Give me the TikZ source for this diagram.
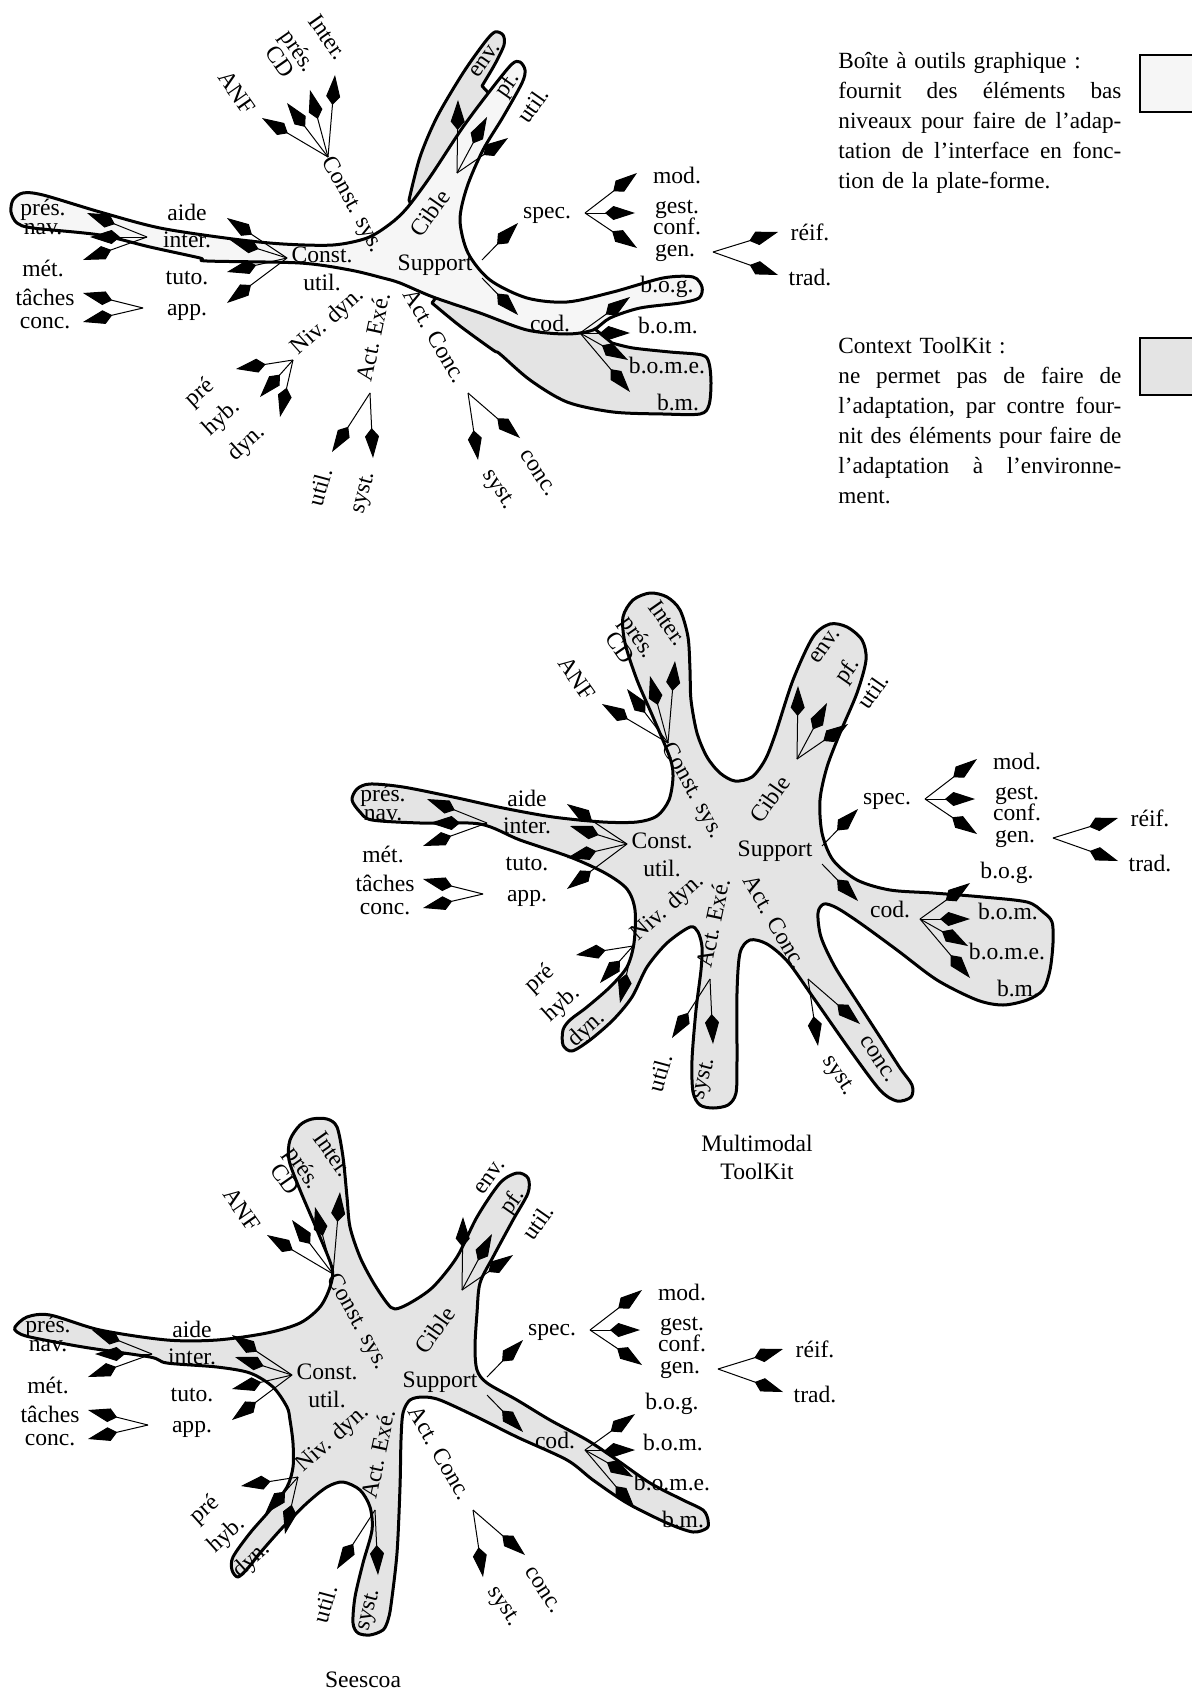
\documentclass[tikz,border=0pt]{standalone}
\usepackage{fontspec}
\setmainfont{Liberation Serif}
\usepackage{xcolor}
\usetikzlibrary{arrows.meta}
\definecolor{boitefill}{gray}{0.965}
\definecolor{ctxfill}{gray}{0.895}
% one justified line of the legend
\newcommand{\jl}[1]{\leavevmode\hbox to 141.5pt{#1}}

\tikzset{
  br/.style={line width=0.5pt,-{Kite[length=15pt,width=7pt,inset=4.2pt]}},
  blob/.style={line width=1.5pt,line join=round},
  every node/.style={inner sep=1pt},
}

% the taxonomy, drawn once per tool
\newcommand{\taxonomie}{%
  % main axes
  \node[rotate=-61] (csys) at (352,205) {Const. sys.};
  \node[rotate=55] (cible) at (430,213) {Cible};
  \node (supp) at (435,265) {Support};
  \node[align=center] (cutil) at (322,269) {Const.\\util.};
  \node[rotate=42] (nivd) at (328,322) {Niv. dyn.};
  \node[rotate=78] (acte) at (373,337) {Act. Exé.};
  \node[rotate=-60] (actc) at (435,336) {Act. Conc.};
  % Const. util.
  \coordinate (cuH) at (287,258);
  \coordinate (aideT) at (227,218); \coordinate (interT) at (230,240);
  \coordinate (tutoT) at (227,272); \coordinate (appT) at (227,303);
  \node (aide) at (187,212) {aide};
  \node (inter) at (187,240) {inter.};
  \node (tuto) at (187,278) {tuto.};
  \node (app) at (187,312) {app.};
  \foreach \t in {aideT,interT,tutoT,appT} \draw[br] (cuH) -- (\t);
  \coordinate (intH) at (147,237);
  \coordinate (presT) at (87,213); \coordinate (navT) at (90,237);
  \coordinate (metT) at (83,260);
  \node (pres) at (43,210) {prés.};
  \node (nav) at (43,229) {nav.};
  \node (met) at (43,268) {mét.};
  \foreach \t in {presT,navT,metT} \draw[br] (intH) -- (\t);
  \coordinate (appH) at (143,308);
  \coordinate (tachT) at (83,293); \coordinate (concT) at (83,322);
  \node (tach) at (45,297) {tâches};
  \node (concu) at (45,323) {conc.};
  \foreach \t in {tachT,concT} \draw[br] (appH) -- (\t);
  % Const. sys.
  \coordinate (csH) at (328,157);
  \coordinate (anfT) at (262,118); \coordinate (cdT) at (287,103);
  \coordinate (presiT) at (310,90); \coordinate (interiT) at (335,75);
  \node[rotate=-55] (anf) at (237,92) {ANF};
  \node[rotate=-55] (cd) at (280,62) {CD};
  \node[rotate=-55] (presi) at (297,52) {prés.};
  \node[rotate=-55] (interi) at (328,37) {Inter.};
  \foreach \t in {anfT,cdT,presiT,interiT} \draw[br] (csH) -- (\t);
  % Cible
  \coordinate (ciH) at (457,173);
  \coordinate (envT) at (458,100); \coordinate (pfT) at (487,117);
  \coordinate (utT) at (508,138);
  \node[rotate=55] (env) at (485,60) {env.};
  \node[rotate=55] (pf) at (508,85) {pf.};
  \node[rotate=55] (utc) at (533,105) {util.};
  \foreach \t in {envT,pfT,utT} \draw[br] (ciH) -- (\t);
  % Support
  \coordinate (spS) at (482,260); \coordinate (specT) at (518,223);
  \coordinate (coS) at (482,278); \coordinate (codT) at (518,315);
  \node (spec) at (547,215) {spec.};
  \node (cod) at (550,323) {cod.};
  \draw[br] (spS) -- (specT);
  \draw[br] (coS) -- (codT);
  \coordinate (spH) at (585,213);
  \coordinate (modT) at (637,173); \coordinate (gcT) at (635,213);
  \coordinate (genT) at (637,248);
  \node (mod) at (677,175) {mod.};
  \node[align=center] (gc) at (677,218) {gest.\\[-3.5pt]conf.};
  \node (gen) at (675,253) {gen.};
  \foreach \t in {modT,gcT,genT} \draw[br] (spH) -- (\t);
  \coordinate (genH) at (713,252);
  \coordinate (reifT) at (778,232); \coordinate (tradT) at (778,275);
  \node (reif) at (810,232) {réif.};
  \node (trad) at (810,277) {trad.};
  \foreach \t in {reifT,tradT} \draw[br] (genH) -- (\t);
  \coordinate (coH) at (580,333);
  \coordinate (bogT) at (630,297); \coordinate (bomT) at (630,333);
  \coordinate (bomeT) at (628,360); \coordinate (bmT) at (630,392);
  \node (bog) at (667,287) {b.o.g.};
  \node (bom) at (668,325) {b.o.m.};
  \node (bome) at (667,365) {b.o.m.e.};
  \node (bm) at (678,402) {b.m.};
  \foreach \t in {bogT,bomT,bomeT,bmT} \draw[br] (coH) -- (\t);
  % Niv. dyn.
  \coordinate (ndH) at (293,360);
  \coordinate (preT) at (236,369); \coordinate (hybT) at (260,397);
  \coordinate (dynT) at (280,417);
  \node[rotate=42] (pre) at (200,393) {pré};
  \node[rotate=42] (hyb) at (222,418) {hyb.};
  \node[rotate=42] (dyn) at (247,443) {dyn.};
  \foreach \t in {preT,hybT,dynT} \draw[br] (ndH) -- (\t);
  % Act. Exe.
  \coordinate (aeH) at (370,393);
  \coordinate (aeuT) at (332,452); \coordinate (aesT) at (373,458);
  \node[rotate=75] (aeu) at (320,487) {util.};
  \node[rotate=75] (aes) at (365,493) {syst.};
  \foreach \t in {aeuT,aesT} \draw[br] (aeH) -- (\t);
  % Act. Conc.
  \coordinate (acH) at (468,393);
  \coordinate (acsT) at (478,460); \coordinate (accT) at (520,438);
  \node[rotate=-57] (acs) at (498,490) {syst.};
  \node[rotate=-57] (acc) at (538,473) {conc.};
  \foreach \t in {acsT,accT} \draw[br] (acH) -- (\t);
}

\begin{document}
\begin{tikzpicture}[x=0.5pt,y=-0.5pt,font=\fontsize{11.8}{14}\selectfont]
  \useasboundingbox (0,0) rectangle (1192,1691);
  \clip (0,0) rectangle (1192,1691);

  % Context ToolKit (grey) under the toolbox (light)
  \filldraw[blob,fill=ctxfill] (418,222) -- plot[smooth,tension=0.5] coordinates {(409,200) (420,157) (437,117) (463,73) (485,42) (495,32) (503,35) (504,45) (495,64) (482,86)} -- (495,100) -- (475,150) -- (450,195) -- cycle;
  \filldraw[blob,fill=ctxfill] (440,292) -- plot[smooth,tension=0.5] coordinates {(432,303) (460,326) (493,350) (500,354) (530,380) (567,402) (613,412) (663,414) (700,414) (709,405) (711,383) (709,363) (702,355) (670,352) (633,348) (612,343)} -- (590,325) -- (520,320) -- cycle;
  \filldraw[blob,fill=boitefill] plot[smooth cycle,tension=0.5] coordinates {(13,200) (23,193) (43,195) (100,212) (160,228) (233,239) (283,244) (333,245) (367,238) (390,224) (407,208) (430,177) (463,127) (493,87) (512,64) (520,62) (525,70) (522,83) (503,117) (483,150) (467,187) (460,220) (468,253) (490,280) (527,298) (567,302) (613,292) (663,278) (693,277) (702,287) (699,298) (680,303) (640,308) (610,318) (593,330) (567,334) (527,330) (480,313) (433,297) (400,283) (383,278) (350,270) (300,263) (207,261) (200,258) (150,247) (100,235) (33,228) (17,223) (11,212)};
  \taxonomie

  % Multimodal ToolKit
  \filldraw[blob,fill=ctxfill] plot[smooth cycle,tension=0.5] coordinates {(352,800) (357,789) (370,784) (403,787) (453,797) (503,808) (553,817) (603,822) (637,822) (657,816) (669,800) (673,777) (670,758) (653,717) (637,680) (625,643) (623,617) (633,600) (650,593) (667,597) (680,610) (688,637) (690,670) (691,700) (697,733) (707,757) (720,773) (735,781) (752,777) (765,760) (775,735) (793,680) (813,637) (830,624) (847,627) (862,640) (866,660) (857,693) (840,733) (827,767) (820,800) (822,833) (833,860) (857,880) (890,890) (933,893) (983,897) (1027,902) (1043,912) (1052,922) (1053,943) (1050,970) (1043,990) (1027,1000) (1003,1005) (977,1000) (937,980) (897,950) (860,923) (837,908) (824,904) (818,913) (821,937) (835,967) (858,1003) (880,1037) (900,1068) (912,1085) (911,1097) (897,1101) (880,1090) (850,1050) (815,1000) (788,962) (767,944) (750,940) (740,953) (737,993) (737,1060) (736,1093) (728,1105) (713,1108) (700,1105) (693,1092) (692,1060) (696,1010) (701,970) (702,947) (698,932) (690,927) (667,943) (647,967) (632,997) (613,1020) (590,1040) (572,1051) (563,1045) (563,1030) (570,1020) (587,1007) (610,987) (627,967) (634,943) (635,910) (627,889) (605,873) (570,857) (520,840) (480,824) (420,823) (372,820) (360,812)};
  \begin{scope}[shift={(340,586)},name prefix=mm-]
    \taxonomie
  \end{scope}
  \node[align=center] (mmtk) at (757,1157) {Multimodal\\ToolKit};

  % Seescoa
  \filldraw[blob,fill=ctxfill] plot[smooth cycle,tension=0.5] coordinates {(15,1327) (27,1317) (50,1315) (100,1330) (167,1340) (217,1340) (267,1333) (300,1323) (320,1307) (330,1287) (332,1268) (317,1230) (300,1190) (289,1160) (290,1140) (300,1125) (312,1119) (327,1119) (337,1127) (343,1157) (347,1197) (350,1227) (360,1257) (373,1282) (387,1303) (395,1309) (410,1303) (433,1287) (457,1257) (477,1217) (500,1183) (517,1173) (528,1178) (528,1193) (513,1220) (493,1257) (480,1283) (477,1313) (475,1347) (477,1370) (487,1383) (517,1400) (550,1420) (587,1440) (617,1460) (650,1483) (683,1500) (703,1510) (708,1520) (707,1528) (693,1532) (667,1523) (627,1503) (593,1480) (567,1460) (517,1437) (477,1417) (440,1400) (423,1397) (410,1400) (403,1413) (401,1440) (400,1487) (397,1553) (391,1605) (388,1620) (383,1630) (370,1635) (358,1633) (353,1623) (355,1597) (363,1563) (372,1530) (370,1507) (360,1490) (343,1482) (327,1487) (307,1503) (283,1527) (260,1553) (248,1568) (238,1577) (232,1570) (233,1557) (250,1533) (270,1510) (287,1487) (293,1467) (293,1443) (290,1420) (287,1407) (273,1387) (250,1373) (217,1367) (167,1363) (150,1357) (83,1347) (30,1337) (17,1332)};
  \begin{scope}[shift={(5,1117)},name prefix=ss-]
    \taxonomie
  \end{scope}
  \node (seescoa) at (363,1680) {Seescoa};

  % legend
  \node[anchor=north west,align=left,text width=141.5pt,inner sep=0pt,
    font=\fontsize{11.6}{15}\selectfont] (legboite) at (838,52)
    {Boîte à outils graphique :\\
     \jl{fournit\hfill des\hfill éléments\hfill bas}\\
     \jl{niveaux\hfill pour\hfill faire\hfill de\hfill l’adap-}\\
     \jl{tation\hfill de\hfill l’interface\hfill en\hfill fonc-}\\
     tion de la plate-forme.};
  \draw[line width=1.3pt,fill=boitefill] (1140,55) rectangle (1200,112);
  \node[anchor=north west,align=left,text width=141.5pt,inner sep=0pt,
    font=\fontsize{11.6}{15}\selectfont] (legctx) at (838,337)
    {Context ToolKit :\\
     \jl{ne\hfill permet\hfill pas\hfill de\hfill faire\hfill de}\\
     \jl{l’adaptation,\hfill par\hfill contre\hfill four-}\\
     \jl{nit\hfill des\hfill éléments\hfill pour\hfill faire\hfill de}\\
     \jl{l’adaptation\hfill à\hfill l’environne-}\\
     ment.};
  \draw[line width=1.3pt,fill=ctxfill] (1140,338) rectangle (1200,395);
\end{tikzpicture}
\end{document}
